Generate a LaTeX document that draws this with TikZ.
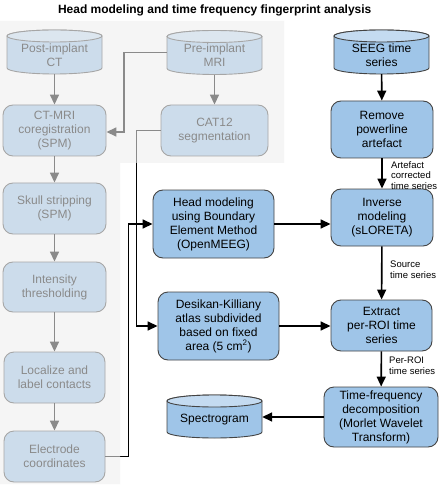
\documentclass[tikz,border=0pt]{standalone}
\usepackage{fontspec}
\setmainfont{Liberation Sans}
\usetikzlibrary{arrows.meta}
\definecolor{nodeblue}{HTML}{9FC5E8}
\definecolor{topblue}{HTML}{C4DBF1}
\definecolor{edgegray}{HTML}{444444}
\definecolor{veil}{HTML}{EEEEEE}
\newcommand\dbnode[6]{%
  \node[cylframe, minimum width=#4pt, minimum height=#5pt] (#1) at (#2,#3) {};
  \filldraw[fill=nodeblue, draw=edgegray, line width=0.9pt]
    ({#2-#4/2},{#3-#5/2+6}) -- ({#2-#4/2},{#3+#5/2-6})
    arc[start angle=180, end angle=0, x radius=#4/2, y radius=6]
    -- ({#2+#4/2},{#3-#5/2+6})
    arc[start angle=0, end angle=-180, x radius=#4/2, y radius=6] -- cycle;
  \filldraw[fill=topblue, draw=edgegray, line width=0.9pt]
    (#2,{#3-#5/2+6}) ellipse[x radius=#4/2, y radius=6];
  \node[boxtext] (#1-text) at (#2,{#3+3}) {#6};
}
\begin{document}
\begin{tikzpicture}[x=1pt,y=-1pt,
  boxtext/.style={align=center, font=\fontsize{12}{14}\selectfont, inner sep=0pt},
  box/.style={boxtext, draw=edgegray, fill=nodeblue, rounded corners=10pt, line width=0.9pt},
  cylframe/.style={draw=none, inner sep=0pt},
  conn/.style={line width=1.6pt, -{Triangle[length=10pt,width=9pt]}},
  elabel/.style={anchor=north west, align=left, font=\fontsize{9.5}{10.8}\selectfont, inner sep=0pt},
]
\useasboundingbox (0,0) rectangle (442,486);
\fill[white] (0,0) rectangle (442,486);

\node[font=\bfseries\fontsize{12}{14}\selectfont, anchor=base] (title) at (214.7,13.5)
  {Head modeling and time frequency fingerprint analysis};

% cylinders
\dbnode{postct}{54.5}{52}{95}{44}{Post-implant\\CT}
\dbnode{premri}{214.5}{52.5}{95}{44}{Pre-implant\\MRI}
\dbnode{seeg}{381.5}{52}{95}{44}{SEEG time\\series}
\dbnode{spectro}{214.5}{416.5}{95}{43}{Spectrogram}

% left column boxes
\node[box, minimum width=103pt, minimum height=51pt] (ctmri) at (54.5,130.5) {CT-MRI\\coregistration\\(SPM)};
\node[box, minimum width=107pt, minimum height=51pt] (cat) at (214.5,130.5) {CAT12\\segmentation};
\node[box, minimum width=103pt, minimum height=51pt] (skull) at (54.5,208.5) {Skull stripping\\(SPM)};
\node[box, minimum width=103pt, minimum height=50pt] (thresh) at (54.5,287) {Intensity\\thresholding};
\node[box, minimum width=101pt, minimum height=51pt] (localize) at (54.5,377.5) {Localize and\\label contacts};
\node[box, minimum width=101pt, minimum height=51pt] (electrode) at (54.5,456.5) {Electrode\\coordinates};

% middle boxes
\node[box, minimum width=121pt, minimum height=68pt] (head) at (213.5,224) {Head modeling\\using Boundary\\Element Method\\(OpenMEEG)};
\node[box, minimum width=121pt, minimum height=68pt] (desikan) at (218.5,326) {Desikan-Killiany\\atlas subdivided\\based on fixed\\area (5 cm\textsuperscript{2})};

% right column
\node[box, minimum width=102pt, minimum height=57pt] (remove) at (382,129.5) {Remove\\powerline\\artefact};
\node[box, minimum width=102pt, minimum height=57pt] (inverse) at (382,217.5) {Inverse\\modeling\\(sLORETA)};
\node[box, minimum width=101pt, minimum height=51pt] (extract) at (381.5,325.5) {Extract\\per-ROI time\\series};
\node[box, minimum width=114pt, minimum height=60pt] (tfd) at (381,417) {Time-frequency\\decomposition\\(Morlet Wavelet\\Transform)};

% connectors
\draw[conn] (postct) -- (ctmri);
\draw[conn] (premri) -- (cat);
\draw[conn] (premri.west) -- ++(-43,0) |- ([yshift=-1.5pt]ctmri.east);
\draw[conn] (ctmri) -- (skull);
\draw[conn] (skull) -- (thresh);
\draw[conn] (thresh) -- (localize);
\draw[conn] (localize) -- (electrode);
\draw[conn] (cat.west) -- ++(-24,0) |- (desikan.west);
\draw[conn] (electrode.east) -- ++(23,0) |- (head.west);
\draw[conn] (head.east) -- (head.east -| inverse.west);
\draw[conn] (desikan.east) -- (desikan.east -| extract.west);
\draw[conn] (seeg) -- (remove);
\draw[conn] (remove) -- (inverse);
\draw[conn] (inverse) -- (extract);
\draw[conn] (extract) -- (tfd);
\draw[conn] (tfd.west) -- (tfd.west -| spectro.east);

% edge labels
\node[elabel] (lab1) at (391,161) {Artefact\\corrected\\time series};
\node[elabel] (lab2) at (390,261) {Source\\time series};
\node[elabel] (lab3) at (389,357) {Per-ROI\\time series};

% faded overlay
\fill[veil, opacity=0.58] (0,21) -- (284,21) -- (284,163) -- (120,163) -- (120,484) -- (0,484) -- cycle;
\end{tikzpicture}
\end{document}
